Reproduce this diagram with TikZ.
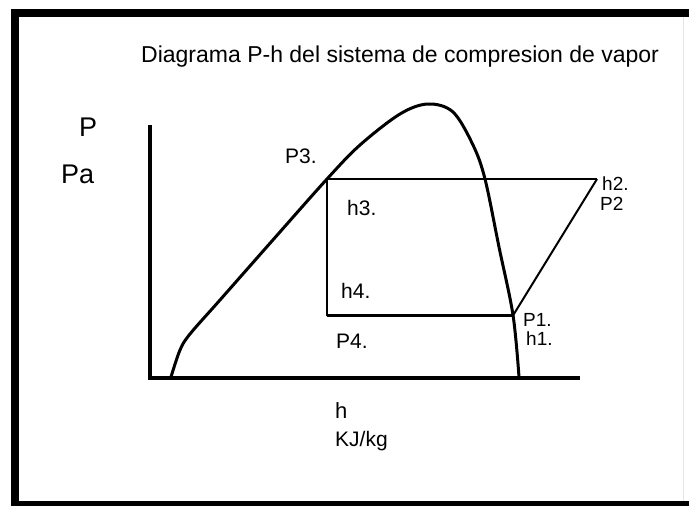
\documentclass[tikz,border=0pt]{standalone}
\usepackage{fontspec}
\setmainfont{Liberation Sans}
\usetikzlibrary{positioning,calc}

\begin{document}
\begin{tikzpicture}[
  x=1pt, y=-1pt,
  tag/.style={anchor=base west, inner sep=0pt, font=\fontsize{21}{24}\selectfont},
  smalltag/.style={anchor=base west, inner sep=0pt, font=\fontsize{19}{22}\selectfont},
  axis/.style={line width=4pt},
  dome/.style={line width=3pt, line join=round},
  thin/.style={line width=1.5pt}
]
\useasboundingbox (0,0) rectangle (689,506);
\clip (0,0) rectangle (689,506);

% frame
\draw[line width=8pt] (700,13) -- (14.5,13) -- (14.5,505) -- (700,505);
\draw[gray!20, line width=1pt] (683,17) -- (683,501);

% title
\node[anchor=base west, inner sep=0pt, font=\fontsize{23}{27}\selectfont] (title) at (141,63) {Diagrama P-h del sistema de compresion de vapor};

% axes
\coordinate (orig) at (150,377.5);
\coordinate (ytop) at (150,125);
\coordinate (xend) at (580,377.5);
\draw[axis] (ytop) -- ($(orig)+(0,2)$);
\draw[axis] ($(orig)+(-2,0)$) -- (xend);
\node[anchor=base west, inner sep=0pt, font=\fontsize{27}{30}\selectfont] (pvar) at (79,136) {P};
\node[anchor=base west, inner sep=0pt, font=\fontsize{27}{30}\selectfont] (punit) at (61,183) {Pa};
\node[tag, font=\fontsize{22}{24}\selectfont] (hvar) at (335,418) {h};
\node[tag] (hunit) at (335,446) {KJ/kg};

% saturation dome
\draw[dome] plot[smooth, tension=0.55] coordinates {
  (171,377) (180,350) (190,334) (220,300) (272,241) (327,179)
  (360,145) (400,114) (428,104) (453,112) (473,145) (485,179)
  (499,247) (513,315) (519,377)};

% cycle
\coordinate (P3) at (327,179);
\coordinate (P2) at (597,179);
\coordinate (P1) at (513,315.5);
\coordinate (P4) at (327,315.5);
\draw[thin] (P3) -- (P2);
\draw[thin] (P3) -- (P4);
\draw[line width=3pt] (P4) -- (P1);
\draw[line width=2pt] (P1) -- (P2);

% point labels
\node[tag] (lblP3) at (285,163) {P3.};
\node[tag] (lblh3) at (347,215) {h3.};
\node[tag] (lblh4) at (341,298) {h4.};
\node[tag] (lblP4) at (336,348) {P4.};
\node[smalltag] (lblh2) at (602,190) {h2.};
\node[smalltag] (lblP2) at (600,210) {P2};
\node[smalltag] (lblP1) at (523,326) {P1.};
\node[smalltag] (lblh1) at (526,345) {h1.};

\end{tikzpicture}
\end{document}
